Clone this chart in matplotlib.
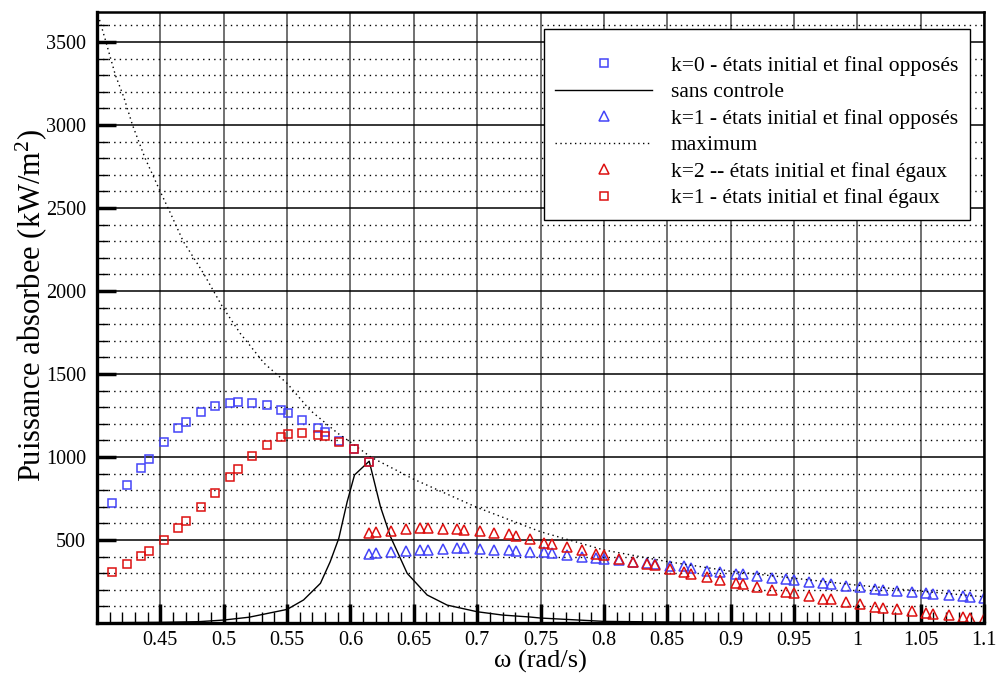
import numpy as np
import matplotlib
matplotlib.use("Agg")
import matplotlib.pyplot as plt
from matplotlib.ticker import MultipleLocator

plt.rcParams['font.family'] = ['Liberation Serif', 'DejaVu Serif']
plt.rcParams['mathtext.fontset'] = 'custom'
plt.rcParams['mathtext.rm'] = 'Liberation Serif'
plt.rcParams['mathtext.it'] = 'Liberation Serif:italic'

# ---- data ----
omega_sq = [0.412, 0.424, 0.435, 0.441, 0.453, 0.464, 0.470, 0.482, 0.493, 0.505, 0.511,
            0.522, 0.534, 0.545, 0.551, 0.562, 0.574, 0.580, 0.591, 0.603, 0.615]
k0_oppose = [725, 830, 936, 986, 1088, 1173, 1211, 1269, 1307, 1327, 1331,
             1327, 1311, 1281, 1263, 1221, 1177, 1153, 1098, 1046, 968]
k1_egaux = [305, 354, 404, 432, 498, 574, 614, 701, 785, 880, 926,
            1006, 1074, 1119, 1137, 1146, 1134, 1127, 1089, 1046, 968]

omega_tri = [0.615, 0.6205, 0.632, 0.644, 0.655, 0.661, 0.673, 0.684, 0.690, 0.702,
             0.713, 0.725, 0.731, 0.742, 0.753, 0.759, 0.771, 0.783, 0.794, 0.800,
             0.812, 0.823, 0.834, 0.840, 0.852, 0.863, 0.869, 0.881, 0.892, 0.904,
             0.910, 0.921, 0.933, 0.944, 0.950, 0.962, 0.973, 0.979, 0.991, 1.002,
             1.014, 1.020, 1.031, 1.043, 1.054, 1.060, 1.072, 1.083, 1.089, 1.100]
k1_oppose = [418, 420, 425, 435, 442, 442, 446, 449, 449, 446,
             442, 438, 436, 429, 425, 422, 410, 400, 390, 385,
             381, 369, 360, 355, 342, 341, 331, 315, 309, 297,
             293, 283, 274, 265, 259, 249, 239, 233, 223, 215,
             205, 201, 195, 189, 179, 177, 169, 161, 159, 149]
k2_egaux = [540, 550, 556, 564, 570, 570, 564, 564, 560, 554,
            544, 534, 524, 506, 484, 477, 460, 440, 418, 412,
            387, 369, 357, 348, 323, 307, 295, 277, 260, 243,
            235, 217, 201, 184, 179, 163, 146, 143, 125, 113,
            96, 90, 82, 72, 60, 54, 46, 36, 32, 24]

omega_free = [0.41, 0.45, 0.48, 0.50, 0.52, 0.55, 0.563, 0.5763, 0.584, 0.5908, 0.5974,
              0.6032, 0.6148, 0.6237, 0.6316, 0.6448, 0.6605, 0.6763, 0.70, 0.72, 0.742,
              0.75, 0.80, 0.85, 0.90, 1.0, 1.1]
sans_controle = [2, 4, 8, 18, 35, 82, 139, 239, 369, 510, 730,
                 892, 975, 700, 520, 299, 169, 108, 68, 48, 36,
                 30, 10, 6, 4, 2, 1]

omega_max = [0.402, 0.407, 0.4145, 0.421, 0.428, 0.438, 0.45, 0.458, 0.468, 0.484,
             0.499, 0.513, 0.532, 0.55, 0.568, 0.59, 0.60, 0.616, 0.65, 0.70,
             0.75, 0.80, 0.85, 0.90, 0.95, 1.0, 1.05, 1.1]
maximum = [3633, 3502, 3301, 3171, 3000, 2799, 2598, 2468, 2300, 2107,
           1905, 1745, 1564, 1444, 1283, 1143, 1090, 1000, 866, 696,
           550, 440, 370, 312, 270, 228, 192, 158]

xtick_vals = [0.45, 0.5, 0.55, 0.6, 0.65, 0.7, 0.75, 0.8, 0.85, 0.9, 0.95, 1.0, 1.05, 1.1]
xtick_labels = ['0.45', '0.5', '0.55', '0.6', '0.65', '0.7', '0.75', '0.8', '0.85',
                '0.9', '0.95', '1', '1.05', '1.1']
ytick_vals = [500, 1000, 1500, 2000, 2500, 3000, 3500]

blue = '#4444f8'
red = '#dd1010'

fig = plt.figure(figsize=(9.96, 6.75), dpi=100)
ax = fig.add_axes([0.0974, 0.077, 0.8906, 0.905])

# grid
for xv in xtick_vals:
    ax.axvline(xv, color='0.35', lw=1.2, zorder=0)
for yv in ytick_vals:
    ax.axhline(yv, color='black', lw=1.1, zorder=0)
for yv in range(100, 3700, 100):
    if yv % 500:
        ax.axhline(yv, color='black', lw=1.0, ls=(0, (1, 3)), zorder=0)

ax.plot(omega_sq, k0_oppose, ls='none', marker='s', ms=6, mfc='none', mec=blue, mew=1.1,
        label='k=0 - états initial et final opposés')
ax.plot(omega_free, sans_controle, color='black', lw=1.0, label='sans controle')
ax.plot(omega_tri, k1_oppose, ls='none', marker='^', ms=7, mfc='none', mec=blue, mew=1.1,
        label='k=1 - états initial et final opposés')
ax.plot(omega_max, maximum, color='black', lw=1.0, ls=(0, (1, 2.5)), label='maximum')
ax.plot(omega_tri, k2_egaux, ls='none', marker='^', ms=7, mfc='none', mec=red, mew=1.1,
        label='k=2 -- états initial et final égaux')
ax.plot(omega_sq, k1_egaux, ls='none', marker='s', ms=6, mfc='none', mec=red, mew=1.1,
        label='k=1 - états initial et final égaux')

ax.set_xlim(0.4, 1.1)
ax.set_ylim(0, 3680)
ax.set_xticks(xtick_vals)
ax.set_xticklabels(xtick_labels)
ax.set_yticks(ytick_vals)
ax.xaxis.set_minor_locator(MultipleLocator(0.01))
ax.yaxis.set_minor_locator(MultipleLocator(100))
ax.tick_params(which='major', direction='in', length=14, width=2.5, labelsize=14.5, pad=6)
ax.tick_params(axis='y', which='major', pad=8)
ax.tick_params(which='minor', direction='in', length=8, width=1.0)
ax.tick_params(top=False, right=False)

for side in ['left', 'bottom']:
    ax.spines[side].set_linewidth(2.4)
for side in ['top', 'right']:
    ax.spines[side].set_linewidth(1.8)

ax.set_xlabel('ω (rad/s)', fontsize=19, labelpad=0)
ax.set_ylabel('Puissance absorbee (kW/m$^2$)', fontsize=22, labelpad=-2.5)
ax.yaxis.label.set_y(0.519)

leg = ax.legend(loc='upper right', bbox_to_anchor=(0.984, 0.972), fontsize=15.5,
                numpoints=1, handlelength=4.5, handletextpad=0.85, labelspacing=0.3,
                borderpad=0.55, fancybox=False, framealpha=1, edgecolor='black',
                borderaxespad=0, title=' ', title_fontsize=6)
leg.get_frame().set_linewidth(1.0)

fig.savefig('out.png', dpi=100)
